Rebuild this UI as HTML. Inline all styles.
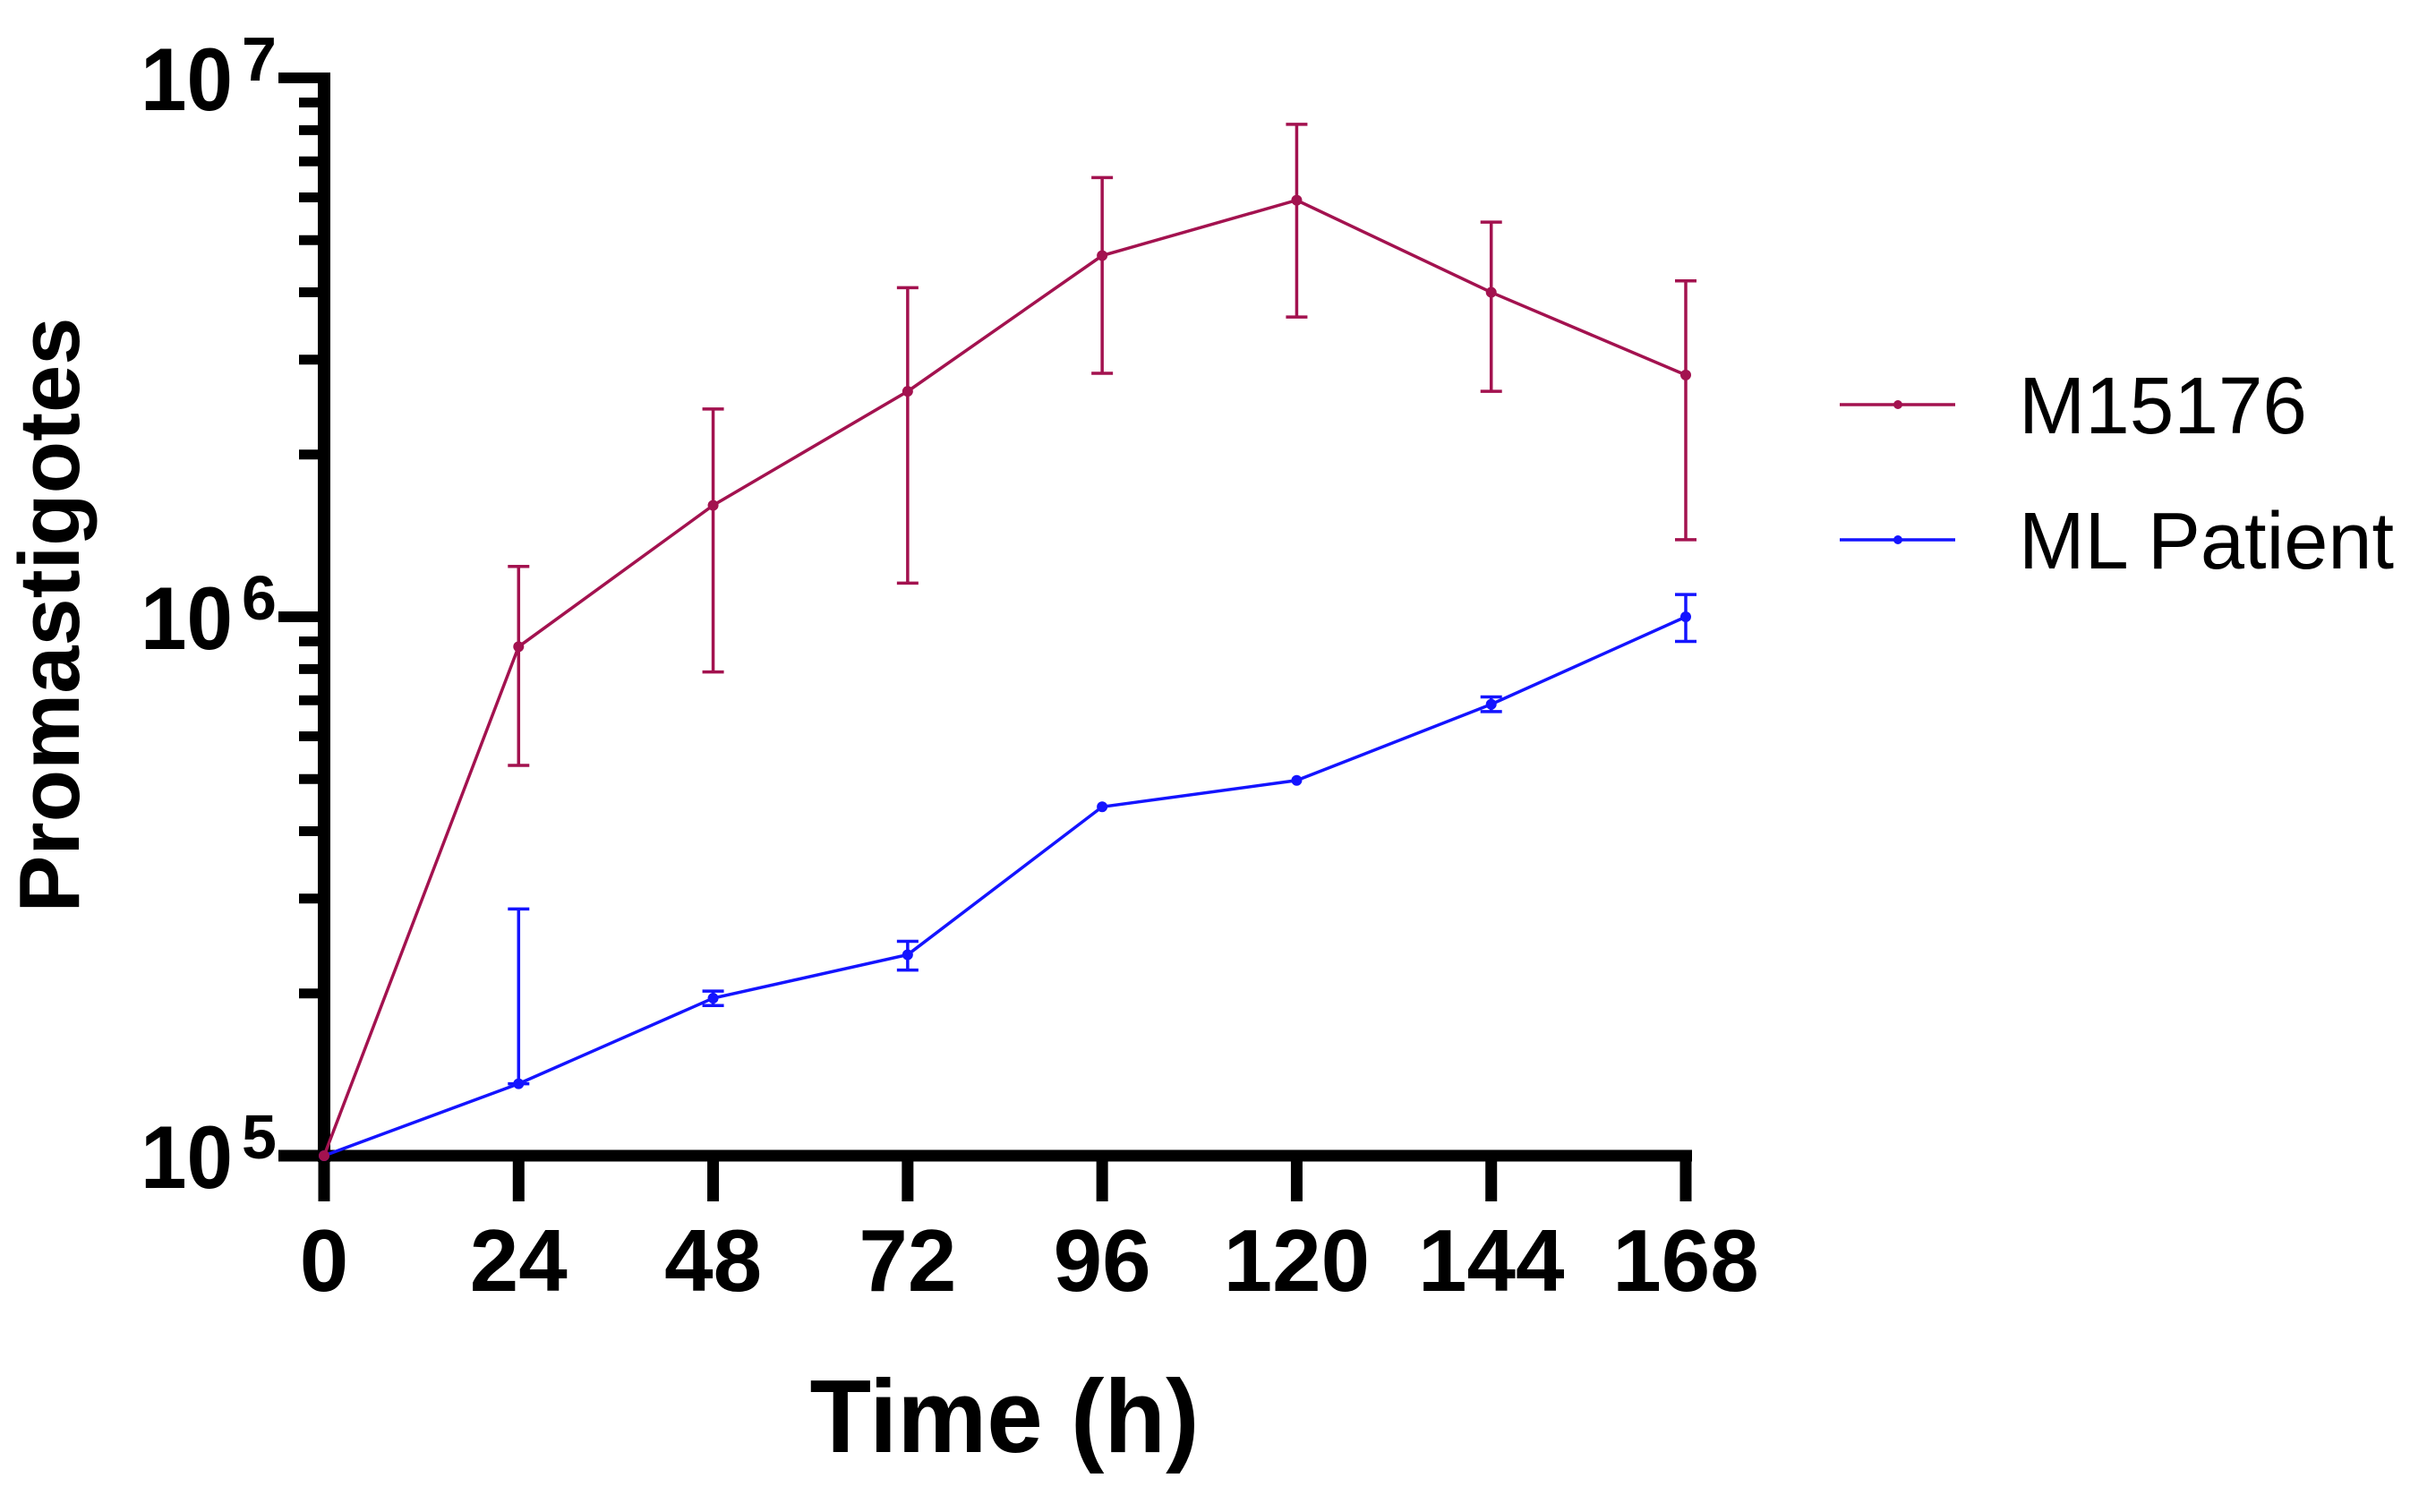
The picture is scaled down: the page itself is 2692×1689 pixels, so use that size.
<!DOCTYPE html>
<html><head><meta charset="utf-8"><style>
html,body{margin:0;padding:0;background:#fff;}
svg{display:block;}
text{font-family:"Liberation Sans",Arial,sans-serif;}
</style></head><body>
<svg id="chart" width="2692" height="1689" viewBox="0 0 2692 1689" xmlns="http://www.w3.org/2000/svg">
<g id="axes"></g>
<g id="series"></g>
<text transform="translate(88,687) rotate(-90)" text-anchor="middle" font-size="96" font-weight="bold" textLength="665" lengthAdjust="spacingAndGlyphs">Promastigotes</text>
<text x="1122" y="1622" text-anchor="middle" font-size="116" font-weight="bold" textLength="435" lengthAdjust="spacingAndGlyphs">Time (h)</text>
<g>
<g>
<line x1="2055" y1="452" x2="2184" y2="452" stroke="#a3124f" stroke-width="3.5"/>
<circle cx="2120" cy="452" r="5" fill="#a3124f"/>
<text x="2255" y="484" font-size="90" textLength="322" lengthAdjust="spacingAndGlyphs">M15176</text>
</g>
<g>
<line x1="2055" y1="603" x2="2184" y2="603" stroke="#1414ff" stroke-width="3.5"/>
<circle cx="2120" cy="603" r="5" fill="#1414ff"/>
<text x="2255" y="635" font-size="90" textLength="419" lengthAdjust="spacingAndGlyphs">ML Patient</text>
</g>
</g>
</svg>
<script>
const times = [0, 24, 48, 72, 96, 120, 144, 168];
const xTicks = [0, 24, 48, 72, 96, 120, 144, 168];
const yExponents = [5, 6, 7];
const m15176Mean = [1.0e5, 8.8e5, 1.61e6, 2.62e6, 4.68e6, 5.93e6, 4.0e6, 2.81e6];
const m15176Upper = [1.0e5, 1.24e6, 2.43e6, 4.08e6, 6.53e6, 8.2e6, 5.4e6, 4.2e6];
const m15176Lower = [1.0e5, 5.3e5, 7.9e5, 1.155e6, 2.83e6, 3.6e6, 2.62e6, 1.39e6];
const mlMean = [1.0e5, 1.36e5, 1.96e5, 2.36e5, 4.44e5, 4.97e5, 6.88e5, 1.0e6];
const mlUpper = [1.0e5, 2.87e5, 2.02e5, 2.5e5, 4.44e5, 4.97e5, 7.1e5, 1.1e6];
const mlLower = [1.0e5, 1.36e5, 1.9e5, 2.21e5, 4.44e5, 4.97e5, 6.67e5, 9.0e5];

const NS = "http://www.w3.org/2000/svg";
const X0 = 362, XPER = 1521/168;
const Y5 = 1291, DEC = 602;
function xs(t){ return X0 + t*XPER; }
function ys(v){ return Y5 - (Math.log10(v) - 5)*DEC; }
function mk(tag, attrs, parent){
  const e = document.createElementNS(NS, tag);
  for (const k in attrs) e.setAttribute(k, attrs[k]);
  parent.appendChild(e);
  return e;
}
const axes = document.getElementById('axes');
const series = document.getElementById('series');

let yl = mk('line', {x1:X0, y1:ys(1e7)-6, x2:X0, y2:Y5+7, stroke:'#000', 'stroke-width':14}, axes);


let xl = mk('line', {x1:X0-51, y1:Y5, x2:xs(168)+7, y2:Y5, stroke:'#000', 'stroke-width':13}, axes);



yExponents.forEach(function(e){
  const y = ys(Math.pow(10, e));
  const t = mk('line', {x1:X0-51, y1:y, x2:X0, y2:y, stroke:'#000', 'stroke-width':12}, axes);
  
  
  const lab = mk('text', {x:157, y:y+36, 'font-size':99, 'font-weight':'bold', textLength:103, lengthAdjust:'spacingAndGlyphs'}, axes);
  lab.textContent = '10';
  
  
  const sup = mk('text', {x:270, y:y+3, 'font-size':70, 'font-weight':'bold'}, axes);
  sup.textContent = String(e);
  
  
  if (e < 7) {
    for (let m = 2; m <= 9; m++) {
      const ym = ys(m*Math.pow(10, e));
      const mt = mk('line', {x1:X0-28, y1:ym, x2:X0, y2:ym, stroke:'#000', 'stroke-width':11}, axes);
      
      
    }
  }
});

xTicks.forEach(function(t){
  const x = xs(t);
  const tk = mk('line', {x1:x, y1:Y5, x2:x, y2:1342, stroke:'#000', 'stroke-width':13}, axes);
  
  
  const lab = mk('text', {x:x, y:1442, 'text-anchor':'middle', 'font-size':98, 'font-weight':'bold'}, axes);
  lab.textContent = String(t);
  
  
});

function drawSeries(name, mean, up, lo, color){
  const g = mk('g', {}, series);
  
  
  for (let i = 0; i < times.length; i++) {
    const x = xs(times[i]);
    if (up[i] > mean[i] * 1.01 || lo[i] < mean[i] * 0.99) {
      const yu = ys(up[i]), yd = ys(lo[i]);
      const eb = mk('path', {d:'M'+x+' '+yu+'V'+yd+'M'+(x-12)+' '+yu+'H'+(x+12)+'M'+(x-12)+' '+yd+'H'+(x+12), stroke:color, 'stroke-width':3.5, fill:'none'}, g);
      
      
    }
  }
  const pts = times.map(function(t, i){ return xs(t) + ',' + ys(mean[i]); }).join(' ');
  const pl = mk('polyline', {points:pts, fill:'none', stroke:color, 'stroke-width':3.5}, g);
  
  
  times.forEach(function(t, i){
    const c = mk('circle', {cx:xs(t), cy:ys(mean[i]), r:6, fill:color}, g);
    
    
  });
}
drawSeries('ml-patient', mlMean, mlUpper, mlLower, '#1414ff');
drawSeries('m15176', m15176Mean, m15176Upper, m15176Lower, '#a3124f');
</script>
</body></html>
